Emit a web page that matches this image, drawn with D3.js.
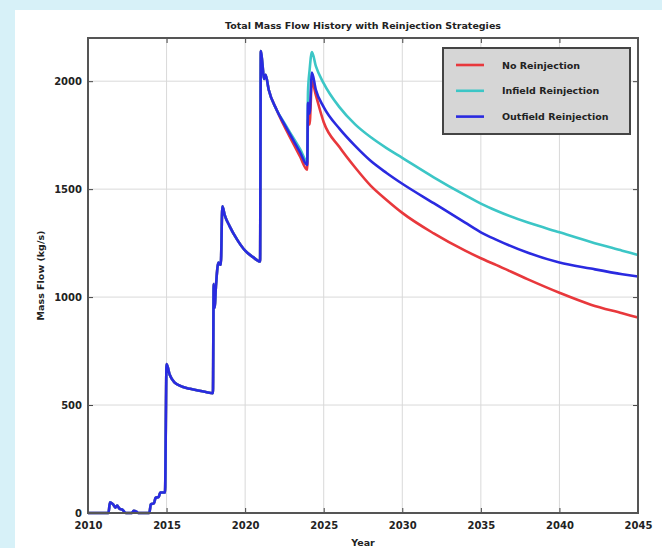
<!DOCTYPE html>
<html>
<head>
<meta charset="utf-8">
<script src="https://cdn.jsdelivr.net/npm/d3@7"></script>
<style>
  html, body { margin: 0; padding: 0; background: #d7f1f8; }
  svg { display: block; }
  text { font-family: "DejaVu Sans", sans-serif; fill: #222; }
</style>
</head>
<body>
<svg id="chart" width="662" height="548"></svg>
<script>
// ---- data ----
const sharedYears = [2010.0, 2011.3, 2011.4, 2011.6, 2011.75, 2011.85, 2012.0, 2012.2, 2012.4, 2012.8, 2012.9, 2013.1, 2013.2,
  2013.9, 2014.0, 2014.2, 2014.3, 2014.5, 2014.6, 2014.9, 2015.0, 2015.2, 2015.5, 2016.0, 2016.5, 2017.0, 2017.5, 2017.95,
  2018.0, 2018.05, 2018.15, 2018.3, 2018.45, 2018.55, 2018.7, 2019.0, 2019.5, 2020.0, 2020.5, 2020.95,
  2021.0, 2021.1, 2021.2, 2021.3, 2021.5, 2022.0];
const sharedFlow = [0, 0, 50, 40, 25, 35, 20, 15, 0, 0, 10, 5, 0,
  0, 40, 45, 70, 75, 95, 95, 690, 640, 605, 585, 575, 567, 560, 555,
  1060, 950, 1060, 1160, 1150, 1420, 1380, 1330, 1265, 1215, 1185, 1165,
  2140, 2080, 2010, 2030, 1960, 1868];

const forecastYears = [2022.5, 2023.0, 2023.5, 2023.95, 2024.0, 2024.1, 2024.25, 2024.5, 2025, 2026, 2027, 2028, 2029,
  2030, 2032, 2034, 2035, 2036, 2038, 2040, 2042, 2044, 2045];
const noReinjection = [1790, 1720, 1650, 1590, 1830, 1800, 2000, 1935, 1810, 1695, 1600, 1515, 1450,
  1390, 1295, 1215, 1180, 1148, 1082, 1020, 965, 925, 905];
const infieldReinjection = [1805, 1745, 1685, 1628, 1950, 2050, 2135, 2070, 1990, 1880, 1800, 1740, 1690,
  1645, 1555, 1472, 1433, 1400, 1345, 1300, 1255, 1215, 1195];
const outfieldReinjection = [1800, 1735, 1670, 1612, 1900, 1850, 2040, 1960, 1880, 1780, 1700, 1630, 1575,
  1525, 1435, 1345, 1300, 1265, 1205, 1160, 1132, 1106, 1095];

const seriesNames = ["No Reinjection", "Infield Reinjection", "Outfield Reinjection"];
const seriesColors = ["#e8383c", "#3cc6c6", "#2a2ae0"];
const xTicks = [2010, 2015, 2020, 2025, 2030, 2035, 2040, 2045];
const yTicks = [0, 500, 1000, 1500, 2000];

const chartTitle = "Total Mass Flow History with Reinjection Strategies";
const xLabel = "Year";
const yLabel = "Mass Flow (kg/s)";

// ---- layout ----
const svg = d3.select("#chart");
svg.append("rect").attr("x", 15).attr("y", 10).attr("width", 647).attr("height", 538).attr("fill", "#ffffff");

const L = 88, R = 638, T = 38, B = 513;
const x = d3.scaleLinear().domain([2010, 2045]).range([L, R]);
const y = d3.scaleLinear().domain([0, 2200]).range([B, T]);

// grid
const grid = svg.append("g");
grid.selectAll("line.gx").data(xTicks.slice(1, -1)).join("line")
  .attr("x1", d => x(d)).attr("x2", d => x(d)).attr("y1", T).attr("y2", B)
  .attr("stroke", "#d9d9d9").attr("stroke-width", 1);
grid.selectAll("line.gy").data(yTicks.slice(1)).join("line")
  .attr("y1", d => y(d)).attr("y2", d => y(d)).attr("x1", L).attr("x2", R)
  .attr("stroke", "#d9d9d9").attr("stroke-width", 1);

// lines
const series = [noReinjection, infieldReinjection, outfieldReinjection].map((vals, i) => {
  const pts = sharedYears.map((yr, j) => [yr, sharedFlow[j]])
    .concat(forecastYears.map((yr, j) => [yr, vals[j]]));
  return { name: seriesNames[i], color: seriesColors[i], pts };
});
const line = d3.line().x(d => x(d[0])).y(d => y(d[1])).curve(d3.curveMonotoneX);
svg.append("g").selectAll("path").data(series).join("path")
  .attr("d", d => line(d.pts))
  .attr("fill", "none").attr("stroke", d => d.color)
  .attr("stroke-width", 2.6).attr("stroke-linejoin", "round");

// axes (ticks inward)
const fmt = d3.format("d");
const axB = svg.append("g").attr("transform", `translate(0,${B})`)
  .call(d3.axisBottom(x).tickValues(xTicks).tickFormat(fmt).tickSize(-5).tickPadding(9));
const axL = svg.append("g").attr("transform", `translate(${L},0)`)
  .call(d3.axisLeft(y).tickValues(yTicks).tickFormat(fmt).tickSize(-5).tickPadding(6));
const axT = svg.append("g").attr("transform", `translate(0,${T})`)
  .call(d3.axisTop(x).tickValues(xTicks).tickFormat("").tickSize(-5));
const axR = svg.append("g").attr("transform", `translate(${R},0)`)
  .call(d3.axisRight(y).tickValues(yTicks).tickFormat("").tickSize(-5));
[axB, axL, axT, axR].forEach(a => {
  a.select(".domain").remove();
  a.selectAll(".tick line").attr("stroke", "#444");
  a.selectAll("text").attr("font-size", 10).attr("font-weight", "bold").attr("fill", "#333")
    .style("font-family", "DejaVu Sans, sans-serif");
});

// frame
svg.append("rect").attr("x", L).attr("y", T).attr("width", R - L).attr("height", B - T)
  .attr("fill", "none").attr("stroke", "#555").attr("stroke-width", 2);

// title and labels
svg.append("text").attr("x", (L + R) / 2).attr("y", 29).attr("text-anchor", "middle")
  .attr("font-size", 9.5).attr("font-weight", "bold").text(chartTitle);
svg.append("text").attr("x", (L + R) / 2).attr("y", 546).attr("text-anchor", "middle")
  .attr("font-size", 9.5).attr("font-weight", "bold").text(xLabel);
svg.append("text").attr("transform", `translate(44,${(T + B) / 2}) rotate(-90)`).attr("text-anchor", "middle")
  .attr("font-size", 9.5).attr("font-weight", "bold").text(yLabel);

// legend
const lg = svg.append("g");
lg.append("rect").attr("x", 443).attr("y", 48).attr("width", 187).attr("height", 86)
  .attr("fill", "#d6d6d6").attr("stroke", "#444").attr("stroke-width", 2);
series.forEach((s, i) => {
  const ly = 65 + i * 25.8;
  lg.append("line").attr("x1", 456).attr("x2", 484).attr("y1", ly).attr("y2", ly)
    .attr("stroke", s.color).attr("stroke-width", 2.6);
  lg.append("text").attr("x", 502).attr("y", ly + 3.5).attr("font-size", 9.5).attr("font-weight", "bold")
    .text(s.name);
});
</script>
</body>
</html>
